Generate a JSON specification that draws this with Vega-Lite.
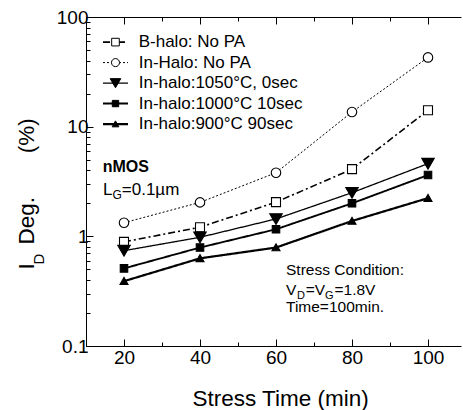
{
  "$schema": "https://vega.github.io/schema/vega-lite/v6.json",
  "width": 375,
  "height": 329,
  "autosize": {"type": "none"},
  "padding": {"left": 86, "top": 17, "right": 2, "bottom": 64},
  "background": "white",
  "config": {
    "view": {"stroke": null},
    "font": "Liberation Sans",
    "axis": {
      "grid": false,
      "domainColor": "black",
      "domainWidth": 1,
      "tickColor": "black",
      "tickWidth": 1,
      "labelColor": "black",
      "labelFont": "Liberation Sans",
      "labelFontSize": 19,
      "titleColor": "black",
      "titleFont": "Liberation Sans",
      "titleFontWeight": "normal",
      "labelFlush": false
    },
    "text": {"font": "Liberation Sans", "color": "black"}
  },
  "datasets": {
    "series": [
      {"series": "B-halo: No PA", "time": 20, "deg": 0.89},
      {"series": "B-halo: No PA", "time": 40, "deg": 1.21},
      {"series": "B-halo: No PA", "time": 60, "deg": 2.05},
      {"series": "B-halo: No PA", "time": 80, "deg": 4.1},
      {"series": "B-halo: No PA", "time": 100, "deg": 14.1},
      {"series": "In-Halo: No PA", "time": 20, "deg": 1.33},
      {"series": "In-Halo: No PA", "time": 40, "deg": 2.04},
      {"series": "In-Halo: No PA", "time": 60, "deg": 3.8},
      {"series": "In-Halo: No PA", "time": 80, "deg": 13.6},
      {"series": "In-Halo: No PA", "time": 100, "deg": 42.8},
      {"series": "In-halo:1050°C, 0sec", "time": 20, "deg": 0.74},
      {"series": "In-halo:1050°C, 0sec", "time": 40, "deg": 0.98},
      {"series": "In-halo:1050°C, 0sec", "time": 60, "deg": 1.44},
      {"series": "In-halo:1050°C, 0sec", "time": 80, "deg": 2.5},
      {"series": "In-halo:1050°C, 0sec", "time": 100, "deg": 4.6},
      {"series": "In-halo:1000°C 10sec", "time": 20, "deg": 0.51},
      {"series": "In-halo:1000°C 10sec", "time": 40, "deg": 0.79},
      {"series": "In-halo:1000°C 10sec", "time": 60, "deg": 1.16},
      {"series": "In-halo:1000°C 10sec", "time": 80, "deg": 2.0},
      {"series": "In-halo:1000°C 10sec", "time": 100, "deg": 3.62},
      {"series": "In-halo:900°C 90sec", "time": 20, "deg": 0.39},
      {"series": "In-halo:900°C 90sec", "time": 40, "deg": 0.63},
      {"series": "In-halo:900°C 90sec", "time": 60, "deg": 0.79},
      {"series": "In-halo:900°C 90sec", "time": 80, "deg": 1.38},
      {"series": "In-halo:900°C 90sec", "time": 100, "deg": 2.23}
    ],
    "legendRows": [
      {"series": "B-halo: No PA", "x0": 14.47, "x1": 21.05, "xc": 17.76, "xt": 23.87, "y": 59.03},
      {"series": "In-Halo: No PA", "x0": 14.47, "x1": 21.05, "xc": 17.76, "xt": 23.87, "y": 38.4},
      {"series": "In-halo:1050°C, 0sec", "x0": 14.47, "x1": 21.05, "xc": 17.76, "xt": 23.87, "y": 24.97},
      {"series": "In-halo:1000°C 10sec", "x0": 14.47, "x1": 21.05, "xc": 17.76, "xt": 23.87, "y": 16.24},
      {"series": "In-halo:900°C 90sec", "x0": 14.47, "x1": 21.05, "xc": 17.76, "xt": 23.87, "y": 10.56}
    ],
    "boldNotes": [{"text": "nMOS", "time": 14.39, "deg": 3.88}],
    "bigNotes": [
      {"text": "L", "time": 14.47, "deg": 2.38},
      {"text": "=0.1µm", "time": 19.42, "deg": 2.38}
    ],
    "bigSubs": [{"text": "G", "time": 16.97, "deg": 2.38}],
    "notes": [
      {"text": "Stress Condition:", "time": 62.63, "deg": 0.444},
      {"text": "V", "time": 62.63, "deg": 0.2917},
      {"text": "=V", "time": 67.8, "deg": 0.2917},
      {"text": "=1.8V", "time": 75.4, "deg": 0.2917},
      {"text": "Time=100min.", "time": 62.63, "deg": 0.2055}
    ],
    "subs": [
      {"text": "D", "time": 65.5, "deg": 0.2917},
      {"text": "G", "time": 72.9, "deg": 0.2917}
    ]
  },
  "layer": [
    {
      "data": {"name": "series"},
      "mark": {"type": "line", "color": "black"},
      "encoding": {
        "x": {
          "field": "time", "type": "quantitative",
          "scale": {"domain": [10, 108.684], "nice": false, "zero": false},
          "axis": {
            "orient": "bottom",
            "values": [10, 20, 30, 40, 50, 60, 70, 80, 90, 100],
            "labelExpr": "datum.value % 20 === 0 ? datum.label : ''",
            "tickSize": {"condition": {"test": "datum.value % 20 === 0", "value": -7}, "value": -4},
            "labelPadding": 9,
            "title": "Stress Time (min)",
            "titleFontSize": 22.5,
            "titleX": 194,
            "titleY": 59,
            "titleBaseline": "alphabetic"
          }
        },
        "y": {
          "field": "deg", "type": "quantitative",
          "scale": {"type": "log", "domain": [0.1, 100], "nice": false},
          "axis": {
            "orient": "left",
            "values": [0.1, 0.2, 0.3, 0.4, 0.5, 0.6, 0.7, 0.8, 0.9, 1, 2, 3, 4, 5, 6, 7, 8, 9, 10, 20, 30, 40, 50, 60, 70, 80, 90, 100],
            "format": "~g",
            "labelExpr": "abs(log(datum.value)/LN10 - round(log(datum.value)/LN10)) < 0.001 ? datum.label : ''",
            "tickSize": {"condition": {"test": "abs(log(datum.value)/LN10 - round(log(datum.value)/LN10)) < 0.001", "value": -7}, "value": -4},
            "labelPadding": 5,
            "title": "I\u00a0\u00a0\u00a0Deg.\u00a0\u00a0\u00a0\u00a0\u00a0\u00a0\u00a0(%)",
            "titleFontSize": 22.5,
            "titleAngle": 270,
            "titleAlign": "left",
            "titleBaseline": "alphabetic",
            "titleX": -53,
            "titleY": 252
          }
        },
        "detail": {"field": "series"},
        "strokeDash": {
          "field": "series", "type": "nominal",
          "scale": {
            "domain": ["B-halo: No PA", "In-Halo: No PA", "In-halo:1050°C, 0sec", "In-halo:1000°C 10sec", "In-halo:900°C 90sec"],
            "range": [[7, 3, 2, 3], [2, 2], [1, 0], [1, 0], [1, 0]]
          },
          "legend": null
        },
        "strokeWidth": {
          "field": "series", "type": "nominal",
          "scale": {
            "domain": ["In-Halo: No PA", "In-halo:1050°C, 0sec", "B-halo: No PA", "In-halo:1000°C 10sec", "In-halo:900°C 90sec"],
            "range": [1, 2.2]
          },
          "legend": null
        }
      }
    },
    {
      "data": {"name": "series"},
      "mark": {"type": "point", "filled": true, "stroke": "black", "strokeWidth": 1.1, "size": 100, "opacity": 1},
      "encoding": {
        "x": {
          "field": "time", "type": "quantitative",
          "axis": {
            "orient": "top",
            "values": [10, 20, 30, 40, 50, 60, 70, 80, 90, 100],
            "labels": false,
            "tickSize": {"condition": {"test": "datum.value % 20 === 0", "value": -7}, "value": -4},
            "title": null
          }
        },
        "y": {
          "field": "deg", "type": "quantitative",
          "axis": {
            "orient": "left",
            "domain": false,
            "ticks": false,
            "labels": false,
            "title": "D",
            "titleFontSize": 15,
            "titleAngle": 270,
            "titleAlign": "left",
            "titleBaseline": "alphabetic",
            "titleX": -43,
            "titleY": 247
          }
        },
        "shape": {
          "field": "series", "type": "nominal",
          "scale": {
            "domain": ["B-halo: No PA", "In-Halo: No PA", "In-halo:1050°C, 0sec", "In-halo:1000°C 10sec", "In-halo:900°C 90sec"],
            "range": [
              "M-0.9,-0.9H0.9V0.9H-0.9Z",
              "M0.95,0A0.95,0.95 0 1,1 -0.95,0A0.95,0.95 0 1,1 0.95,0Z",
              "M-1.25,-1.05H1.25L0,1.1Z",
              "M-0.75,-0.75H0.75V0.75H-0.75Z",
              "M-0.8,0.65H0.8L0,-0.75Z"
            ]
          },
          "legend": null
        },
        "fill": {
          "field": "series", "type": "nominal",
          "scale": {
            "domain": ["B-halo: No PA", "In-Halo: No PA", "In-halo:1050°C, 0sec", "In-halo:1000°C 10sec", "In-halo:900°C 90sec"],
            "range": ["white", "white", "black", "black", "black"]
          },
          "legend": null
        }
      }
    },
    {
      "data": {"name": "legendRows"},
      "mark": {"type": "rule", "color": "black"},
      "encoding": {
        "x": {"field": "x0", "type": "quantitative", "axis": null},
        "x2": {"field": "x1"},
        "y": {"field": "y", "type": "quantitative", "axis": null},
        "strokeDash": {"field": "series", "type": "nominal", "legend": null},
        "strokeWidth": {"field": "series", "type": "nominal", "legend": null}
      }
    },
    {
      "data": {"name": "legendRows"},
      "mark": {"type": "point", "filled": true, "stroke": "black", "strokeWidth": 1, "size": 72, "opacity": 1},
      "encoding": {
        "x": {"field": "xc", "type": "quantitative", "axis": null},
        "y": {"field": "y", "type": "quantitative", "axis": null},
        "shape": {"field": "series", "type": "nominal", "legend": null},
        "fill": {"field": "series", "type": "nominal", "legend": null}
      }
    },
    {
      "data": {"name": "legendRows"},
      "mark": {"type": "text", "align": "left", "baseline": "middle", "fontSize": 17},
      "encoding": {
        "x": {"field": "xt", "type": "quantitative", "axis": null},
        "y": {"field": "y", "type": "quantitative", "axis": null},
        "text": {"field": "series"}
      }
    },
    {
      "data": {"name": "boldNotes"},
      "mark": {"type": "text", "align": "left", "baseline": "alphabetic", "fontSize": 16, "fontWeight": "bold"},
      "encoding": {
        "x": {"field": "time", "type": "quantitative", "axis": null},
        "y": {"field": "deg", "type": "quantitative", "axis": null},
        "text": {"field": "text"}
      }
    },
    {
      "data": {"name": "bigNotes"},
      "mark": {"type": "text", "align": "left", "baseline": "alphabetic", "fontSize": 17},
      "encoding": {
        "x": {"field": "time", "type": "quantitative", "axis": null},
        "y": {"field": "deg", "type": "quantitative", "axis": null},
        "text": {"field": "text"}
      }
    },
    {
      "data": {"name": "bigSubs"},
      "mark": {"type": "text", "align": "left", "baseline": "alphabetic", "fontSize": 12, "dy": 4},
      "encoding": {
        "x": {"field": "time", "type": "quantitative", "axis": null},
        "y": {"field": "deg", "type": "quantitative", "axis": null},
        "text": {"field": "text"}
      }
    },
    {
      "data": {"name": "notes"},
      "mark": {"type": "text", "align": "left", "baseline": "alphabetic", "fontSize": 15.5},
      "encoding": {
        "x": {"field": "time", "type": "quantitative", "axis": null},
        "y": {"field": "deg", "type": "quantitative", "axis": null},
        "text": {"field": "text"}
      }
    },
    {
      "data": {"name": "subs"},
      "mark": {"type": "text", "align": "left", "baseline": "alphabetic", "fontSize": 11, "dy": 4},
      "encoding": {
        "x": {"field": "time", "type": "quantitative", "axis": null},
        "y": {"field": "deg", "type": "quantitative", "axis": null},
        "text": {"field": "text"}
      }
    }
  ],
  "resolve": {"axis": {"x": "independent", "y": "independent"}}
}
